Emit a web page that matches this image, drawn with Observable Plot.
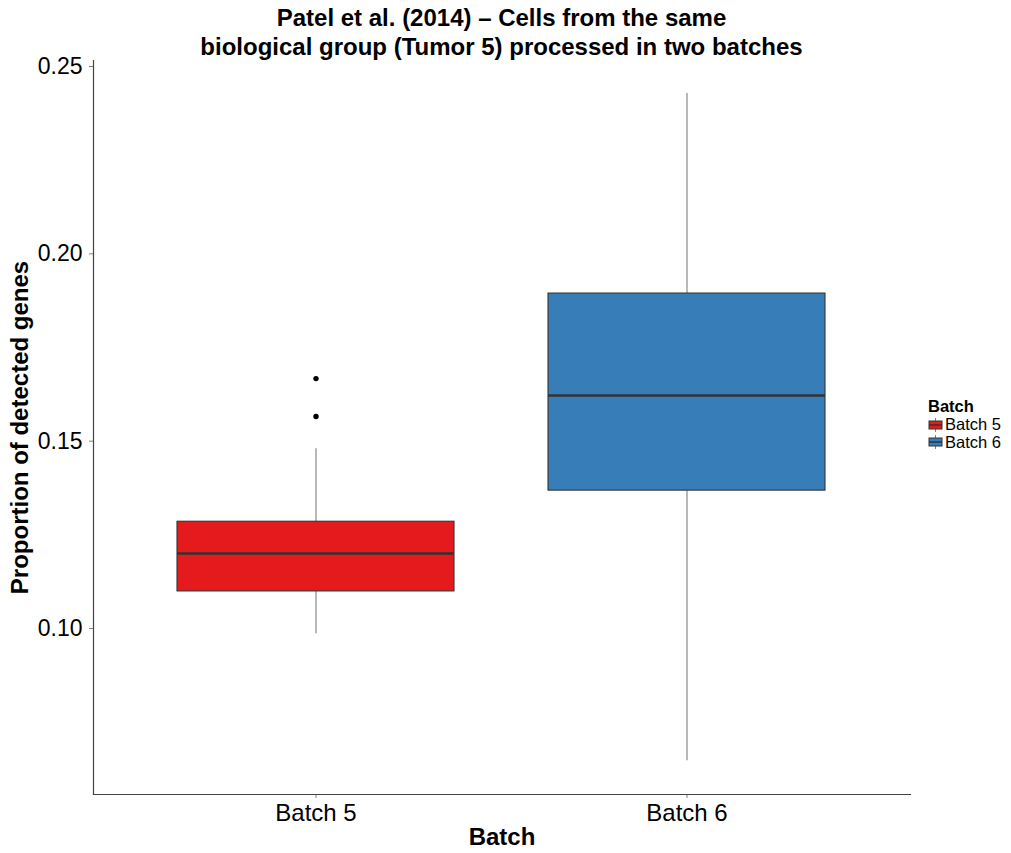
<!DOCTYPE html>
<html>
<head>
<meta charset="utf-8">
<script src="https://cdn.jsdelivr.net/npm/d3@7"></script>
<script src="https://cdn.jsdelivr.net/npm/@observablehq/plot@0.6"></script>
<style>
  body { margin: 0; background: #fff; font-family: "Liberation Sans", Arial, sans-serif; }
  #wrap { position: relative; width: 1011px; height: 853px; }
  #title { position: absolute; left: 93px; width: 817px; top: 3px; text-align: center;
           font-weight: bold; font-size: 24px; line-height: 29px; color: #000; }
  #legend { position: absolute; left: 928px; top: 397px; font-size: 16.5px; color: #000; }
  #legend .lt { font-weight: bold; line-height: 19px; height: 19px; }
  #legend .it { display: flex; align-items: center; height: 17.5px; line-height: 17px; }
  #legend svg { margin-right: 2px; }
</style>
</head>
<body>
<div id="wrap">
  <div id="title">Patel et al. (2014) – Cells from the same<br>biological group (Tumor 5) processed in two batches</div>
  <div id="chart"></div>
  <div id="legend"></div>
</div>
<script>
const batches = ["Batch 5", "Batch 6"];
const colors = ["#E41A1C", "#377EB8"];
const whiskerLow = [0.0986, 0.0647];
const q1 = [0.1099, 0.1368];
const median = [0.1200, 0.1622];
const q3 = [0.1285, 0.1894];
const whiskerHigh = [0.1480, 0.2428];
const outlierBatch = ["Batch 5", "Batch 5"];
const outlierValue = [0.1667, 0.1566];
const yTicks = [0.10, 0.15, 0.20, 0.25];

const boxes = batches.map((b, i) => ({
  batch: b, lo: whiskerLow[i], q1: q1[i], med: median[i], q3: q3[i], hi: whiskerHigh[i]
}));
const outliers = outlierBatch.map((b, i) => ({batch: b, value: outlierValue[i]}));

const plot = Plot.plot({
  width: 1011,
  height: 853,
  marginLeft: 93,
  marginRight: 101,
  marginTop: 60,
  marginBottom: 59,
  style: {fontFamily: "Liberation Sans, Arial, sans-serif", fontSize: "23px", color: "#000", background: "#fff"},
  x: {domain: batches, paddingInner: 0.2527, paddingOuter: 0.2245, label: null},
  y: {domain: [0.0557, 0.2516], label: null},
  color: {domain: batches, range: colors},
  marks: [
    Plot.ruleX(boxes, {x: "batch", y1: "lo", y2: "q1", stroke: "#7f7f7f", strokeWidth: 1.1}),
    Plot.ruleX(boxes, {x: "batch", y1: "q3", y2: "hi", stroke: "#7f7f7f", strokeWidth: 1.1}),
    Plot.barY(boxes, {x: "batch", y1: "q1", y2: "q3", fill: "batch", stroke: "#333333", strokeWidth: 1.1}),
    Plot.tickY(boxes, {x: "batch", y: "med", stroke: "#333333", strokeWidth: 2.5}),
    Plot.dot(outliers, {x: "batch", y: "value", r: 2.7, fill: "#000", stroke: "none"}),
    Plot.axisY({ticks: yTicks, tickFormat: d3.format(".2f"), tickSize: 4, tickPadding: 7, stroke: "#7f7f7f", fontSize: 23, label: null}),
    Plot.axisX({tickSize: 4, tickPadding: 5, stroke: "#7f7f7f", fontSize: 24, label: null}),
    Plot.frame({anchor: "left", stroke: "#444", strokeWidth: 1.2}),
    Plot.frame({anchor: "bottom", stroke: "#444", strokeWidth: 1.2}),
    Plot.text(["Batch"], {frameAnchor: "bottom", dy: 50, fontWeight: "bold", fontSize: 24, fill: "#000"}),
    Plot.text(["Proportion of detected genes"], {frameAnchor: "left", dx: -73, rotate: -90, textAnchor: "middle", fontWeight: "bold", fontSize: 24, fill: "#000"})
  ]
});
document.getElementById("chart").appendChild(plot);

// Legend
const leg = document.getElementById("legend");
const lt = document.createElement("div");
lt.className = "lt"; lt.textContent = "Batch";
leg.appendChild(lt);
batches.forEach((b, i) => {
  const it = document.createElement("div");
  it.className = "it";
  it.innerHTML = `<svg width="15" height="14" viewBox="0 0 15 14">
    <line x1="7.5" y1="0" x2="7.5" y2="3" stroke="#7f7f7f"/>
    <line x1="7.5" y1="11" x2="7.5" y2="14" stroke="#7f7f7f"/>
    <rect x="1" y="3" width="13" height="8" fill="${colors[i]}" stroke="#333" stroke-width="1"/>
    <line x1="1" y1="7" x2="14" y2="7" stroke="#333" stroke-width="1.5"/>
  </svg><span>${b}</span>`;
  leg.appendChild(it);
});
</script>
</body>
</html>
